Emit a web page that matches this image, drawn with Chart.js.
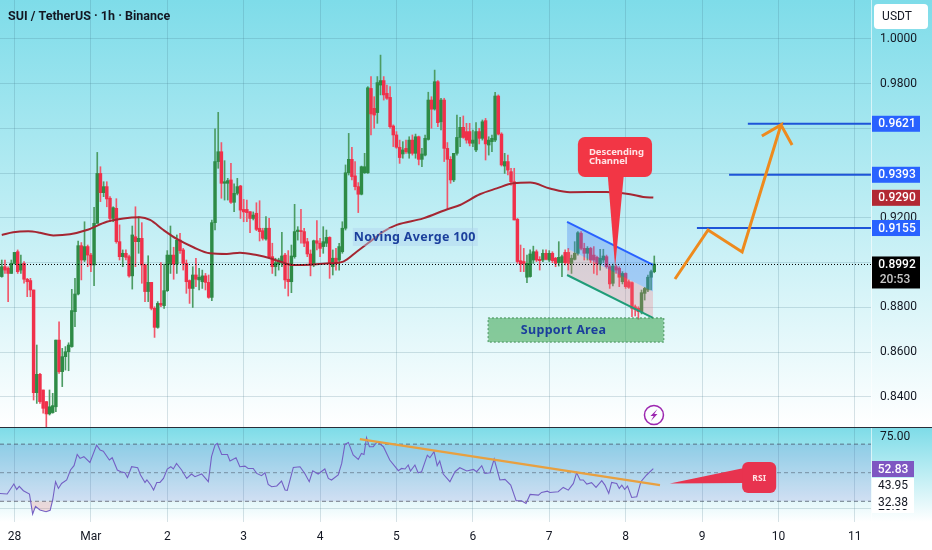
<!DOCTYPE html>
<html>
<head>
<meta charset="utf-8">
<script src="https://cdn.jsdelivr.net/npm/chart.js"></script>
<style>
    html, body { margin: 0; padding: 0; background: #fff; overflow: hidden; }
    #pricePane { position: absolute; left: 0; top: 0; width: 932px; height: 427px; background: linear-gradient(#7edce9, #ffffff); }
    #sep { position: absolute; left: 0; top: 427px; width: 932px; height: 1.5px; background: #2a2e39; }
    #rsiPane { position: absolute; left: 0; top: 428px; width: 932px; height: 122px; background: linear-gradient(#7edce8 0, #ffffff 94px); }
    canvas { display: block; }
</style>
</head>
<body>
<div id="pricePane"><canvas id="price" width="932" height="427"></canvas></div>
<div id="sep"></div>
<div id="rsiPane"><canvas id="rsi" width="932" height="122"></canvas></div>

<script>
// candles, one per hour starting 4h before 28 Feb 00:00
const firstHour = -4;
const opens = [
0.8938,0.8982,0.8975,0.8952,0.8997,0.9049,0.8967,0.8997,0.8926,0.8920,
0.8878,0.8419,0.8501,0.8431,0.8379,0.8324,0.8330,0.8356,0.8654,0.8513,
0.8580,0.8602,0.8625,0.8781,0.8860,0.9076,0.9012,0.9072,0.9034,0.8990,
0.9176,0.9399,0.9313,0.9340,0.9288,0.9198,0.9243,0.9094,0.9027,0.9042,
0.9027,0.8941,0.9116,0.9094,0.9109,0.8990,0.8871,0.8912,0.8796,0.8711,
0.8818,0.8808,0.8875,0.8994,0.9034,0.8994,0.9101,0.9057,0.8997,0.8920,
0.8885,0.8945,0.8923,0.8915,0.8941,0.8912,0.8845,0.9179,0.9452,0.9496,
0.9355,0.9355,0.9370,0.9270,0.9310,0.9343,0.9238,0.9238,0.9228,0.9198,
0.9221,0.9154,0.9143,0.9106,0.9154,0.9027,0.8982,0.8994,0.9000,0.9034,
0.8926,0.8915,0.9027,0.9139,0.9143,0.9139,0.9094,0.9039,0.8994,0.9098,
0.9087,0.9072,0.9087,0.9113,0.8982,0.9020,0.9012,0.9049,0.9154,0.9402,
0.9462,0.9388,0.9340,0.9306,0.9402,0.9402,0.9779,0.9690,0.9671,0.9794,
0.9814,0.9757,0.9739,0.9611,0.9571,0.9516,0.9486,0.9511,0.9489,0.9548,
0.9489,0.9563,0.9462,0.9481,0.9551,0.9727,0.9687,0.9809,0.9630,0.9727,
0.9511,0.9462,0.9370,0.9489,0.9560,0.9605,0.9586,0.9586,0.9534,0.9504,
0.9586,0.9556,0.9635,0.9526,0.9541,0.9548,0.9745,0.9575,0.9432,0.9452,
0.9407,0.9362,0.9194,0.9009,0.9005,0.8935,0.8938,0.9012,0.9049,0.9015,
0.9012,0.9042,0.9012,0.9042,0.9020,0.9000,0.9000,0.9046,0.9046,0.8997,
0.9015,0.9042,0.9131,0.9064,0.9042,0.9064,0.9034,0.9024,0.8994,0.9012,
0.9027,0.8982,0.8908,0.8982,0.8975,0.8915,0.8952,0.8915,0.8911,0.8803,
0.8796,0.8781,0.8863,0.8878,0.8935,0.8960];
const highs = [
0.9012,0.9012,0.8982,0.9012,0.9046,0.9057,0.9034,0.9005,0.8930,0.8930,
0.8878,0.8632,0.8505,0.8431,0.8379,0.8431,0.8416,0.8654,0.8736,0.8617,
0.8625,0.8642,0.8881,0.8930,0.9097,0.9090,0.9183,0.9079,0.9042,0.9247,
0.9493,0.9429,0.9362,0.9362,0.9295,0.9250,0.9286,0.9169,0.9057,0.9057,
0.9034,0.9164,0.9250,0.9206,0.9179,0.8994,0.9031,0.8912,0.8803,0.8826,
0.9000,0.8994,0.9054,0.9164,0.9069,0.9124,0.9131,0.9064,0.9012,0.8923,
0.8982,0.9020,0.8975,0.8967,0.8952,0.8945,0.9191,0.9598,0.9672,0.9537,
0.9456,0.9377,0.9444,0.9352,0.9377,0.9346,0.9283,0.9280,0.9228,0.9227,
0.9268,0.9277,0.9154,0.9206,0.9198,0.9087,0.9020,0.9020,0.9136,0.9042,
0.9054,0.9079,0.9261,0.9161,0.9238,0.9154,0.9109,0.9057,0.9101,0.9188,
0.9109,0.9161,0.9146,0.9116,0.9057,0.9064,0.9087,0.9183,0.9437,0.9578,
0.9516,0.9452,0.9358,0.9432,0.9489,0.9787,0.9832,0.9742,0.9832,0.9928,
0.9832,0.9794,0.9787,0.9616,0.9586,0.9548,0.9541,0.9548,0.9563,0.9571,
0.9575,0.9566,0.9511,0.9571,0.9762,0.9742,0.9861,0.9814,0.9735,0.9735,
0.9537,0.9474,0.9489,0.9660,0.9650,0.9656,0.9623,0.9623,0.9593,0.9626,
0.9601,0.9638,0.9645,0.9563,0.9571,0.9762,0.9750,0.9581,0.9489,0.9481,
0.9422,0.9422,0.9198,0.9079,0.9064,0.9034,0.9057,0.9074,0.9057,0.9027,
0.9057,0.9057,0.9054,0.9049,0.9024,0.9094,0.9034,0.9057,0.9064,0.9034,
0.9094,0.9139,0.9139,0.9087,0.9072,0.9069,0.9072,0.9030,0.9060,0.9060,
0.9034,0.8990,0.8994,0.8990,0.8982,0.8960,0.8955,0.8923,0.8915,0.8811,
0.8803,0.8878,0.8890,0.8945,0.8967,0.9030];
const lows = [
0.8935,0.8952,0.8826,0.8952,0.8994,0.8952,0.8952,0.8908,0.8848,0.8848,
0.8386,0.8371,0.8371,0.8327,0.8267,0.8319,0.8327,0.8334,0.8505,0.8446,
0.8520,0.8517,0.8622,0.8714,0.8856,0.8923,0.9005,0.8982,0.8960,0.8897,
0.9176,0.9273,0.9295,0.9250,0.9183,0.9183,0.9087,0.9012,0.8982,0.9012,
0.8935,0.8882,0.8982,0.9042,0.8908,0.8826,0.8826,0.8789,0.8666,0.8707,
0.8803,0.8796,0.8871,0.8952,0.8926,0.8952,0.9042,0.8967,0.8863,0.8818,
0.8800,0.8893,0.8878,0.8885,0.8878,0.8841,0.8830,0.9146,0.9422,0.9288,
0.9280,0.9280,0.9265,0.9228,0.9303,0.9198,0.9183,0.9183,0.9134,0.9191,
0.9143,0.9097,0.9101,0.9101,0.9020,0.8952,0.8941,0.8967,0.8982,0.8885,
0.8851,0.8866,0.9020,0.9101,0.9087,0.9072,0.9027,0.8941,0.8982,0.9057,
0.9027,0.9042,0.9072,0.8930,0.8945,0.8967,0.8967,0.9042,0.9146,0.9392,
0.9370,0.9325,0.9224,0.9303,0.9399,0.9399,0.9571,0.9601,0.9623,0.9750,
0.9727,0.9730,0.9601,0.9519,0.9511,0.9444,0.9467,0.9489,0.9467,0.9481,
0.9467,0.9437,0.9429,0.9477,0.9548,0.9601,0.9682,0.9608,0.9593,0.9452,
0.9243,0.9355,0.9362,0.9481,0.9519,0.9556,0.9534,0.9522,0.9519,0.9496,
0.9531,0.9548,0.9459,0.9481,0.9496,0.9541,0.9571,0.9432,0.9399,0.9392,
0.9347,0.9191,0.8997,0.8960,0.8960,0.8911,0.8935,0.8997,0.9005,0.8967,
0.9005,0.9012,0.9005,0.9000,0.8982,0.8985,0.8938,0.8990,0.8967,0.8952,
0.9012,0.9034,0.9057,0.9012,0.9012,0.9000,0.8952,0.8945,0.8967,0.9000,
0.8975,0.8885,0.8896,0.8952,0.8893,0.8905,0.8885,0.8885,0.8759,0.8762,
0.8747,0.8771,0.8833,0.8871,0.8878,0.8955];
const closes = [
0.8982,0.8967,0.8952,0.8997,0.9046,0.8960,0.8994,0.8926,0.8915,0.8878,
0.8419,0.8501,0.8379,0.8349,0.8324,0.8356,0.8361,0.8654,0.8513,0.8580,
0.8602,0.8632,0.8786,0.8860,0.9076,0.9012,0.9072,0.9034,0.8990,0.9176,
0.9399,0.9313,0.9340,0.9285,0.9198,0.9246,0.9094,0.9027,0.9042,0.9024,
0.8941,0.9124,0.9094,0.9109,0.8990,0.8871,0.8912,0.8796,0.8711,0.8818,
0.8811,0.8875,0.9034,0.9034,0.8994,0.9101,0.9054,0.8997,0.8915,0.8885,
0.8945,0.8926,0.8935,0.8941,0.8912,0.8845,0.9179,0.9452,0.9496,0.9355,
0.9362,0.9367,0.9270,0.9310,0.9340,0.9235,0.9227,0.9224,0.9198,0.9213,
0.9149,0.9139,0.9109,0.9154,0.9027,0.8982,0.9000,0.9012,0.9030,0.8923,
0.8915,0.9030,0.9139,0.9146,0.9139,0.9087,0.9039,0.8994,0.9098,0.9087,
0.9064,0.9094,0.9113,0.8997,0.9020,0.8997,0.9072,0.9154,0.9402,0.9462,
0.9385,0.9340,0.9306,0.9429,0.9429,0.9782,0.9665,0.9660,0.9805,0.9814,
0.9750,0.9735,0.9608,0.9571,0.9516,0.9470,0.9504,0.9496,0.9548,0.9489,
0.9563,0.9462,0.9486,0.9556,0.9727,0.9686,0.9809,0.9626,0.9727,0.9511,
0.9462,0.9370,0.9489,0.9560,0.9605,0.9560,0.9548,0.9534,0.9548,0.9586,
0.9556,0.9630,0.9531,0.9548,0.9556,0.9745,0.9575,0.9437,0.9452,0.9414,
0.9362,0.9191,0.9005,0.8994,0.8997,0.8997,0.9039,0.9049,0.9012,0.9009,
0.9042,0.9015,0.9042,0.9009,0.8997,0.9024,0.9027,0.9000,0.8997,0.9020,
0.9042,0.9134,0.9064,0.9042,0.9064,0.9012,0.9012,0.8994,0.9020,0.9030,
0.8982,0.8905,0.8985,0.8967,0.8935,0.8952,0.8893,0.8890,0.8796,0.8791,
0.8781,0.8866,0.8885,0.8935,0.8960,0.8994];

// moving average 100
const maHours = [-4,-0.4,4.3,8,12.2,17.4,22.7,29,34.2,39.4,42.6,46.8,51,56.2,61.4,66.7,70.8,76.1,80.3,83.4,87.6,92.8,99.1,103.3,107.5,111.7,115.9,120.1,128.4,135.8,140,146.2,151.5,156.7,162,168.2,174.5,186,193.4,197.5,200.7];
const maValues = [0.9124,0.9136,0.9140,0.9134,0.9122,0.9127,0.9146,0.9183,0.9198,0.9203,0.9191,0.9146,0.9106,0.9069,0.9042,0.9039,0.9045,0.9034,0.9020,0.9005,0.8990,0.8991,0.8997,0.9005,0.9049,0.9094,0.9139,0.9169,0.9198,0.9238,0.9258,0.9306,0.9332,0.9355,0.9358,0.9332,0.9315,0.9316,0.9306,0.9294,0.9291];

// RSI
const rsiHours = [-4.6,-2.3,-0.2,0.7,1.5,2.8,4.7,5.7,6.6,8,9.9,11.2,12,12.9,13.8,14.8,16.4,17.6,18.7,19.7,20.6,21.8,23.7,25.8,26.9,27.9,29.8,30.7,32.3,33.4,34.7,35.5,36.8,38.7,39.6,41,41.6,42.8,43.7,44.7,45.7,46.8,48,49.1,49.9,50.9,52.5,54.1,55.6,56.7,58.8,60.9,61.9,63,63.7,65.1,66.9,67.7,69.6,70.8,72.4,73.4,75,76.1,77.6,78.7,79.7,80.8,82.4,83.9,85,85.7,87.6,89.7,91.2,92.6,93.7,95.4,97.5,98.6,99.6,101.7,102.8,103.8,104.9,106.4,108,109,109.8,110.6,111.5,112.7,114,115.9,117.9,120.6,121.6,122.7,123.7,124.4,125.8,126.8,127.9,129.7,130.5,131.8,132.8,133.6,134.7,136.8,138.4,139.9,142.1,144.2,145.2,146.8,147.8,149.4,150.7,152.5,154.1,155.9,157.6,159.3,160.7,162,164.6,165.6,167.4,168.2,170.8,172.4,174,175.6,176.6,177.7,178.7,179.8,181.3,182.7,184.5,185.5,186.7,187.6,189.2,190,190.8,191.7,192.6,193.9,195.5,196.8,198.6,200.7];
const rsiValues = [35.5,35.1,42.1,38.3,40.4,37.4,35.1,21.1,26.4,23.9,22.7,23.7,30.9,43.7,39,42.5,44.9,51.9,54.9,62.8,60,61.2,57.2,69.3,65.8,65.1,58.9,60.5,51.9,50.7,50,46.7,54.2,53.5,48.4,43.2,44.9,41.4,37.9,43.2,43.2,46,52.6,54.2,52.6,56.5,51.9,46,49.1,47.2,49.1,43.7,61.2,69.3,70.5,62.8,62.8,58.2,60.5,54.2,54.6,53,53,49.5,47.9,50,41.8,40.2,40.7,44.2,37.9,37.6,53.7,54.2,49.5,43.7,51.4,49.1,52.6,46,44.9,48.4,56.5,69.8,71.2,62.4,59.3,63.5,62.8,74.5,68.2,68.2,71.7,68.2,58.9,51.4,53,52.6,55.4,51.2,55.4,50,50.7,62.3,60.5,64.7,54.9,58.2,49.1,43.7,50.7,53.5,51.2,52.3,50.7,54.9,49.5,50,59.6,44.9,45.3,41.3,30.4,30.4,28.5,34.8,34.3,36.2,37.1,36.2,36.7,39.7,37.8,42.5,50,44.9,44.9,42,43,39.7,44.4,41.3,35.5,43.2,42.5,39,41.3,38.3,40.6,32.7,33.2,43.7,48.4,52.83];
const rsiLevels = [70, 50, 30];

// axis ticks
const dayHours = [0,24,48,72,96,120,144,168,192,216,240,264];
const dayLabels = ['28','Mar','2','3','4','5','6','7','8','9','10','11'];
const priceTicks = [1,0.98,0.96,0.94,0.92,0.90,0.88,0.86,0.84];
const priceTickLabels = ['1.0000','0.9800','','','0.9200','','0.8800','0.8600','0.8400'];
const rsiTicks = [75, 25.3];
const rsiTickLabels = ['75.00', ''];

// drawings on the chart
const lastPrice = 0.8992;
const targets = [0.9621, 0.9393, 0.9155];
const targetStarts = [230.4, 224.5, 214.4];
const maLast = 0.9290;
const channelHours = [173.6, 200.6];
const channelTop = [0.9182, 0.8990];
const channelMid = [0.9063, 0.8871];
const channelBottom = [0.8945, 0.8753];
const supportHours = [148.8, 204];
const supportPrices = [0.8753, 0.8645];
const pathHours = [207.5, 217.9, 228.6, 240.8, 234.8, 240.8, 244.3];
const pathPrices = [0.8927, 0.9146, 0.9048, 0.9616, 0.9566, 0.9616, 0.9526];
const rsiTrendHours = [108.5, 202.8];
const rsiTrendValues = [73.5, 41.3];

const xMin = -4.555, xMax = 269.09;
const font = 'Roboto, sans-serif';
const gridColor = 'rgba(60,110,130,0.2)';

function pts(xs, ys) { return xs.map((x, i) => ({x: x, y: ys[i]})); }

function xAxis(showLabels) {
    return {
        type: 'linear', offset: false, min: xMin, max: xMax,
        grid: {color: gridColor, drawTicks: false, offset: false},
        border: {display: false},
        afterBuildTicks: s => { s.ticks = dayHours.map(v => ({value: v})); },
        afterFit: s => { s.height = showLabels ? 28 : 0; s.paddingLeft = 0; s.paddingRight = 0; },
        ticks: {
            display: showLabels, autoSkip: false, maxRotation: 0, padding: 8, color: '#131722',
            font: {family: font, size: 12},
            callback: (v, i) => dayLabels[i]
        }
    };
}

function tag(ctx, y, h, bg, text, color) {
    ctx.fillStyle = bg;
    ctx.fillRect(872, y - h / 2, 48, h);
    ctx.fillStyle = color;
    ctx.font = '500 12px ' + font;
    ctx.textAlign = 'center';
    ctx.textBaseline = 'middle';
    ctx.fillText(text, 897, y + 0.5);
}

function rounded(ctx, x, y, w, h, r, color) {
    ctx.fillStyle = color;
    ctx.beginPath();
    ctx.roundRect(x, y, w, h, r);
    ctx.fill();
}

const priceOverlay = {
    id: 'priceOverlay',
    afterDatasetsDraw(chart) {
        const ctx = chart.ctx, X = chart.scales.x, Y = chart.scales.y;
        ctx.save();

        // title and currency box
        ctx.fillStyle = '#131722';
        ctx.font = 'bold 12.5px ' + font;
        ctx.textAlign = 'left';
        ctx.textBaseline = 'middle';
        ctx.fillText('SUI / TetherUS · 1h · Binance', 8, 16.5);
        rounded(ctx, 874, 4, 54, 25, 4, '#ffffff');
        ctx.fillStyle = '#131722';
        ctx.font = '12px ' + font;
        ctx.textAlign = 'center';
        ctx.fillText('USDT', 897, 17);

        // price tags
        targets.forEach(v => tag(ctx, Y.getPixelForValue(v), 16, '#2962ff', v.toFixed(4), '#ffffff'));
        tag(ctx, Y.getPixelForValue(maLast), 16, '#b22833', maLast.toFixed(4), '#ffffff');
        const py = Y.getPixelForValue(lastPrice);
        ctx.fillStyle = '#000000';
        ctx.fillRect(872, py - 8, 48, 32);
        ctx.fillStyle = '#ffffff';
        ctx.font = '500 12px ' + font;
        ctx.textAlign = 'center';
        ctx.fillText(lastPrice.toFixed(4), 897, py + 0.5);
        ctx.fillStyle = '#c8c8c8';
        ctx.fillText('20:53', 895, py + 15.5);

        // moving average label
        const mx = X.getPixelForValue(106.3), my = Y.getPixelForValue(0.9115);
        ctx.fillStyle = 'rgba(175,210,240,0.45)';
        ctx.fillRect(mx, my - 9, 125, 18);
        ctx.fillStyle = '#1b3f9c';
        ctx.font = 'bold 12.5px "Noto Sans"';
        ctx.letterSpacing = '0.3px';
        ctx.textAlign = 'left';
        ctx.fillText('Noving Averge 100', mx + 1, my + 0.5);

        // support label
        ctx.fillStyle = '#1b3f9c';
        ctx.textAlign = 'center';
        ctx.fillText('Support Area', X.getPixelForValue(172.5), Y.getPixelForValue(0.8695));
        ctx.letterSpacing = '0px';

        // descending channel callout
        const bx = X.getPixelForValue(177), bw = X.getPixelForValue(200.3) - bx;
        const by = Y.getPixelForValue(0.9562), bh = Y.getPixelForValue(0.9383) - by;
        ctx.fillStyle = '#f23645';
        ctx.beginPath();
        ctx.moveTo(X.getPixelForValue(186.4), by + bh - 1);
        ctx.lineTo(X.getPixelForValue(191.4), by + bh - 1);
        ctx.lineTo(X.getPixelForValue(188.7), Y.getPixelForValue(0.8981));
        ctx.closePath();
        ctx.fill();
        rounded(ctx, bx, by, bw, bh, 7, '#f23645');
        ctx.fillStyle = '#ffe3e5';
        ctx.font = 'bold 9.5px "Noto Sans"';
        ctx.textAlign = 'left';
        ctx.fillText('Descending', bx + 11, by + 15);
        ctx.fillText('Channel', bx + 11, by + 24.5);

        // alert icon
        const ix = X.getPixelForValue(200.9), iy = Y.getPixelForValue(0.8319);
        ctx.strokeStyle = '#9c27b0';
        ctx.lineWidth = 1.5;
        ctx.beginPath();
        ctx.arc(ix, iy, 9.5, 0, Math.PI * 2);
        ctx.stroke();
        ctx.fillStyle = '#9c27b0';
        ctx.beginPath();
        ctx.moveTo(ix + 3.5, iy - 6);
        ctx.lineTo(ix - 3.5, iy + 1);
        ctx.lineTo(ix - 0.3, iy + 1);
        ctx.lineTo(ix - 3, iy + 6);
        ctx.lineTo(ix + 3.5, iy - 1);
        ctx.lineTo(ix + 0.3, iy - 1);
        ctx.closePath();
        ctx.fill();

        ctx.restore();
    }
};

const rsiOverlay = {
    id: 'rsiOverlay',
    afterDatasetsDraw(chart) {
        const ctx = chart.ctx, X = chart.scales.x, Y = chart.scales.y;
        ctx.save();

        // value labels
        ctx.fillStyle = '#ffffff';
        ctx.fillRect(872, 50, 42, 35);
        ctx.font = '12px ' + font;
        ctx.textAlign = 'center';
        ctx.textBaseline = 'middle';
        ctx.fillStyle = '#131722';
        ctx.fillText('20.00', 893, 79);
        ctx.fillStyle = '#ffffff';
        ctx.fillRect(872, 65, 42, 16);
        ctx.fillStyle = '#7e57c2';
        ctx.fillRect(872, 33, 42, 16);
        ctx.fillStyle = '#ffffff';
        ctx.font = '500 12px ' + font;
        ctx.fillText('52.83', 893, 41.5);
        ctx.fillStyle = '#131722';
        ctx.font = '12px ' + font;
        ctx.fillText('43.95', 893, 58);
        ctx.fillText('32.38', 893, 74.5);

        // RSI callout
        const bx = X.getPixelForValue(228.6), by = Y.getPixelForValue(57.5);
        const bw = X.getPixelForValue(239.3) - bx, bh = Y.getPixelForValue(35.8) - by;
        ctx.fillStyle = '#e8334f';
        ctx.beginPath();
        ctx.moveTo(X.getPixelForValue(205.9), Y.getPixelForValue(42.5));
        ctx.lineTo(bx + 2, Y.getPixelForValue(53.3));
        ctx.lineTo(bx + 2, Y.getPixelForValue(42.8));
        ctx.closePath();
        ctx.fill();
        rounded(ctx, bx, by, bw, bh, 6, '#e8334f');
        ctx.fillStyle = '#ffe3e5';
        ctx.font = 'bold 8.5px "Noto Sans"';
        ctx.textAlign = 'center';
        ctx.fillText('RSI', bx + bw / 2, by + bh / 2 + 1);

        ctx.restore();
    }
};

const candleHours = closes.map((c, i) => firstHour + i);
const upColor = '#2e8b46', downColor = '#f0304a';
const candleColors = closes.map((c, i) => c >= opens[i] ? upColor : downColor);
const wickColors = closes.map((c, i) => c >= opens[i] ? '#4c9c63' : '#f2566a');

const flat = {pointRadius: 0, pointHoverRadius: 0};

new Chart(document.getElementById('price'), {
    data: {
        datasets: [
            {type: 'bar', order: 20, grouped: false, barThickness: 1, backgroundColor: wickColors,
             data: candleHours.map((h, i) => ({x: h, y: [lows[i], highs[i]]}))},
            {type: 'bar', order: 19, grouped: false, barThickness: 2.8, minBarLength: 1, backgroundColor: candleColors,
             data: candleHours.map((h, i) => ({x: h, y: [opens[i], closes[i]]}))},

            // channel: upper half blue, lower half pink
            {type: 'line', order: 15, ...flat, data: pts(channelHours, channelTop), borderColor: '#2962ff', borderWidth: 2,
             fill: '+1', backgroundColor: 'rgba(70,130,240,0.35)'},
            {type: 'line', order: 16, ...flat, data: pts(channelHours, channelMid), borderWidth: 0, borderColor: 'transparent',
             fill: '+1', backgroundColor: 'rgba(240,120,130,0.28)'},
            {type: 'line', order: 14, ...flat, data: pts(channelHours, channelBottom), borderColor: '#1f9c78', borderWidth: 2},

            // support area
            {type: 'line', order: 13, ...flat, borderWidth: 0, borderColor: 'transparent',
             data: pts(supportHours, [supportPrices[0], supportPrices[0]]),
             fill: {target: {value: supportPrices[1]}, above: 'rgba(70,170,90,0.6)'}},
            {type: 'line', order: 12, ...flat, borderColor: '#3f8f55', borderWidth: 1, borderDash: [2, 2],
             data: pts([supportHours[0], supportHours[0], supportHours[1], supportHours[1], supportHours[0]],
                       [supportPrices[1], supportPrices[0], supportPrices[0], supportPrices[1], supportPrices[1]])},

            {type: 'line', order: 10, ...flat, data: pts(maHours, maValues), borderColor: '#a52632', borderWidth: 2, tension: 0.4, cubicInterpolationMode: 'monotone'},
            {type: 'line', order: 9, ...flat, data: pts([xMin, xMax], [lastPrice, lastPrice]), borderColor: '#000000', borderWidth: 1, borderDash: [1, 2]},

            // target levels
            ...targets.map((v, i) => ({type: 'line', order: 8, ...flat, data: pts([targetStarts[i], xMax], [v, v]), borderColor: '#1e55d8', borderWidth: 2})),

            // projected path
            {type: 'line', order: 7, ...flat, data: pts(pathHours, pathPrices), borderColor: '#ee8a1d', borderWidth: 3}
        ]
    },
    options: {
        responsive: false, animation: false,
        layout: {padding: 0},
        plugins: {legend: {display: false}, tooltip: {enabled: false}},
        scales: {
            x: xAxis(false),
            y: {
                position: 'right', min: 0.82655, max: 1.01743,
                grid: {color: gridColor, drawTicks: false},
                border: {display: true, color: 'rgba(255,255,255,0.6)'},
                afterBuildTicks: s => { s.ticks = priceTicks.map(v => ({value: v})); },
                afterFit: s => { s.width = 61; s.paddingTop = 0; s.paddingBottom = 0; },
                ticks: {
                    padding: 9, color: '#131722', font: {family: font, size: 12},
                    callback: (v, i) => priceTickLabels[i]
                }
            }
        }
    },
    plugins: [priceOverlay]
});

new Chart(document.getElementById('rsi'), {
    data: {
        datasets: [
            // band between the outer levels
            {type: 'line', order: 20, ...flat, data: pts([xMin, xMax], [rsiLevels[0], rsiLevels[0]]), borderColor: 'rgba(70,80,100,0.75)', borderWidth: 1, borderDash: [4, 3],
             fill: {target: {value: rsiLevels[2]}, above: 'rgba(110,90,200,0.15)'}},
            {type: 'line', order: 19, ...flat, data: pts([xMin, xMax], [rsiLevels[1], rsiLevels[1]]), borderColor: 'rgba(70,80,100,0.55)', borderWidth: 1, borderDash: [4, 3]},
            {type: 'line', order: 18, ...flat, data: pts([xMin, xMax], [rsiLevels[2], rsiLevels[2]]), borderColor: 'rgba(70,80,100,0.75)', borderWidth: 1, borderDash: [4, 3]},
            {type: 'line', order: 10, ...flat, data: pts(rsiHours, rsiValues), borderColor: '#7460c4', borderWidth: 1.1,
             fill: {target: {value: rsiLevels[2]}, above: 'transparent', below: 'rgba(240,120,120,0.25)'}},
            {type: 'line', order: 9, ...flat, data: pts(rsiTrendHours, rsiTrendValues), borderColor: '#e8a040', borderWidth: 2.2}
        ]
    },
    options: {
        responsive: false, animation: false,
        layout: {padding: 0},
        plugins: {legend: {display: false}, tooltip: {enabled: false}},
        scales: {
            x: xAxis(true),
            y: {
                position: 'right', min: 15.5, max: 81.3,
                grid: {color: ctx => ctx.tick.value === 75 ? 'transparent' : gridColor, drawTicks: false},
                border: {display: true, color: 'rgba(255,255,255,0.6)'},
                afterBuildTicks: s => { s.ticks = rsiTicks.map(v => ({value: v})); },
                afterFit: s => { s.width = 61; s.paddingTop = 0; s.paddingBottom = 0; },
                ticks: {
                    padding: 9, color: '#131722', font: {family: font, size: 12},
                    callback: (v, i) => rsiTickLabels[i]
                }
            }
        }
    },
    plugins: [rsiOverlay]
});
</script>
</body>
</html>
